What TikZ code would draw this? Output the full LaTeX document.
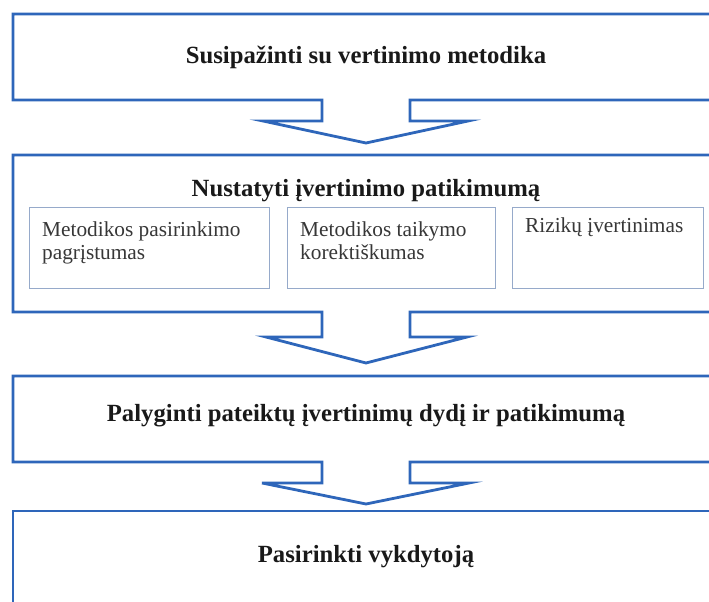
\documentclass[tikz,border=0pt]{standalone}
\usepackage{fontspec}
\setmainfont{Liberation Serif}
\definecolor{frameblue}{RGB}{46,102,186}
\definecolor{subline}{RGB}{150,170,202}
\definecolor{inktext}{RGB}{25,25,25}
\definecolor{subtextcol}{RGB}{55,55,55}
\begin{document}
\begin{tikzpicture}[x=1bp,y=-1bp,
  stage/.style={draw=frameblue, line width=2.8bp, line join=miter},
  stagetitle/.style={font=\bfseries\fontsize{24.8}{28}\selectfont, text=inktext, inner sep=0pt, anchor=base},
  subbox/.style={draw=subline, line width=1bp, anchor=north west, inner sep=0pt},
  subtext/.style={font=\fontsize{21.4}{23}\selectfont, text=subtextcol, align=left, anchor=north west, inner sep=0pt}]
\useasboundingbox (0,0) rectangle (709,602);
\fill[white] (0,0) rectangle (709,602);
\begin{scope}
\clip (0,0) rectangle (709,602);
% stage 1 frame with its down arrow
\draw[stage] (13,14) -- (725,14) -- (725,100) -- (410,100) -- (410,121) -- (468,121)
  -- (366,143) -- (263,121) -- (322,121) -- (322,100) -- (13,100) -- cycle;
% stage 2 frame with its down arrow
\draw[stage] (13,155) -- (725,155) -- (725,312) -- (410,312) -- (410,337) -- (467,337)
  -- (366,363) -- (266,337) -- (322,337) -- (322,312) -- (13,312) -- cycle;
% stage 3 frame with its down arrow
\draw[stage] (13,376) -- (725,376) -- (725,462) -- (410,462) -- (410,483) -- (469,483)
  -- (366,504) -- (262,483) -- (322,483) -- (322,462) -- (13,462) -- cycle;
% stage 4 frame, running past the lower edge
\draw[stage] (13,620) -- (13,511) -- (725,511) -- (725,620);
\end{scope}

\node[stagetitle] (t1) at (366,64) {Susipažinti su vertinimo metodika};
\node[stagetitle] (t2) at (366,197) {Nustatyti įvertinimo patikimumą};
\node[stagetitle] (t3) at (366,421) {Palyginti pateiktų įvertinimų dydį ir patikimumą};
\node[stagetitle] (t4) at (366,562) {Pasirinkti vykdytoją};

\node[subbox, minimum width=240bp, minimum height=81bp] (s1) at (29,207) {};
\node[subbox, minimum width=208bp, minimum height=81bp] (s2) at (287,207) {};
\node[subbox, minimum width=191bp, minimum height=81bp] (s3) at (512,207) {};

\node[subtext] (s1t) at ([xshift=13bp,yshift=-15bp]s1.north west) {Metodikos pasirinkimo\\pagrįstumas};
\node[subtext] (s2t) at ([xshift=13bp,yshift=-15bp]s2.north west) {Metodikos taikymo\\korektiškumas};
\node[subtext] (s3t) at ([xshift=13bp,yshift=-11bp]s3.north west) {Rizikų įvertinimas};
\end{tikzpicture}
\end{document}
